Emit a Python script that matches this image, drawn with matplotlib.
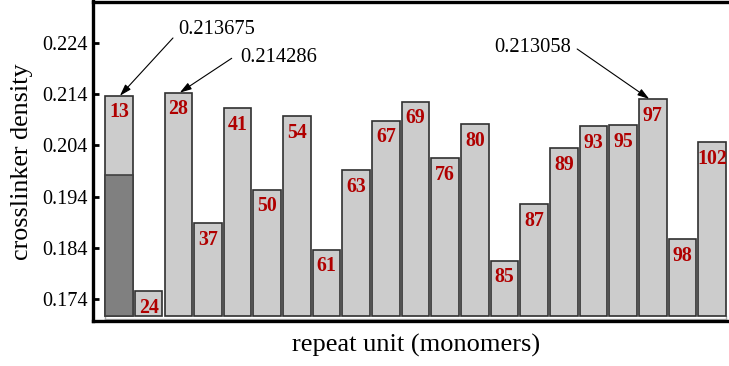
import matplotlib
matplotlib.use("Agg")
import matplotlib.pyplot as plt

# repeat units (monomers) and the crosslinker density of each
repeat_units = [13, 24, 28, 37, 41, 50, 54, 61, 63, 67, 69, 76, 80, 85, 87, 89, 93, 95, 97, 98, 102]
density = [0.213675, 0.1756, 0.214286, 0.1889, 0.2113, 0.1954, 0.2097, 0.1837, 0.1992,
           0.2088, 0.2125, 0.2015, 0.2082, 0.1815, 0.1926, 0.2034, 0.2077, 0.2080,
           0.213058, 0.1857, 0.2046]
# lower part of the first bar
inner_13 = 0.1982
baseline = 0.1707

yticks = [0.174, 0.184, 0.194, 0.204, 0.214, 0.224]
ytick_labels = ["0.174", "0.184", "0.194", "0.204", "0.214", "0.224"]

# highlighted bars: (index, label text)
callouts = [(0, "0.213675"), (2, "0.214286"), (18, "0.213058")]

plt.rcParams["font.family"] = ["Liberation Serif", "DejaVu Serif"]

W, H = 729, 366
fig = plt.figure(figsize=(W / 100, H / 100), dpi=100)
ax = fig.add_axes([93 / W, 1 - 321 / H, (729 - 93) / W, (321 - 1.5) / H])

x = list(range(len(repeat_units)))
heights = [d - baseline for d in density]
ax.bar(x, heights, bottom=baseline, width=0.93, color="#cccccc",
       edgecolor="#303030", linewidth=1.2, zorder=2)
ax.bar([0], [inner_13 - baseline], bottom=baseline, width=0.93, color="#808080",
       edgecolor="#404040", linewidth=1.2, zorder=3)

# thin frame under the row of bars
x0, x1 = -0.465, len(x) - 1 + 0.465
ax.plot([x0, x1], [0.17020, 0.17020], color="#aaaaaa", lw=1.0, zorder=1)
ax.plot([x0, x0], [0.1697, baseline], color="#aaaaaa", lw=1.0, zorder=1)
ax.plot([x1, x1], [0.1697, baseline], color="#aaaaaa", lw=1.0, zorder=1)

# repeat-unit number inside each bar, near its top
for xi, d, r in zip(x, density, repeat_units):
    ax.annotate(str(r), xy=(xi, d), xytext=(0, -12), textcoords="offset points",
                ha="center", va="center", fontsize=14.3, fontweight="bold",
                color="#b00000", zorder=4)

# callouts with arrows to the three tallest bars
arrow_starts = {0: (1.82, 0.22494), 2: (3.80, 0.22098), 18: (15.45, 0.22279)}
text_pos = {0: (2.0, 0.22650, "left"), 2: (4.10, 0.22113, "left"),
            18: (15.23, 0.22318, "right")}
tips = {0: 0.03, 2: 0.05, 18: -0.12}
for i, label in callouts:
    ax.annotate("", xy=(i + tips[i], density[i]), xytext=arrow_starts[i],
                arrowprops=dict(arrowstyle="-|>,head_length=0.7,head_width=0.22",
                                color="black", lw=0.8, shrinkA=0, shrinkB=0),
                zorder=5)
    tx, ty, ha = text_pos[i]
    ax.text(tx, ty, label, ha=ha, va="center", fontsize=14.8, zorder=5)

ax.set_xlim(-0.877, 20.57)
ax.set_ylim(0.16977, 0.23205)
ax.set_xticks([])
ax.set_yticks(yticks)
ax.set_yticklabels(ytick_labels, fontsize=14.6)
ax.tick_params(axis="y", direction="in", length=4, width=2, pad=4)

for side in ("left", "top", "bottom"):
    ax.spines[side].set_linewidth(2.4)
ax.spines["right"].set_visible(False)

ax.set_ylabel("crosslinker density", fontsize=18.8, labelpad=6)
ax.set_xlabel("repeat unit (monomers)", fontsize=19, labelpad=9.5)
ax.xaxis.label.set_x(0.5 + 5 / 636)

fig.savefig("out.png", dpi=100)
